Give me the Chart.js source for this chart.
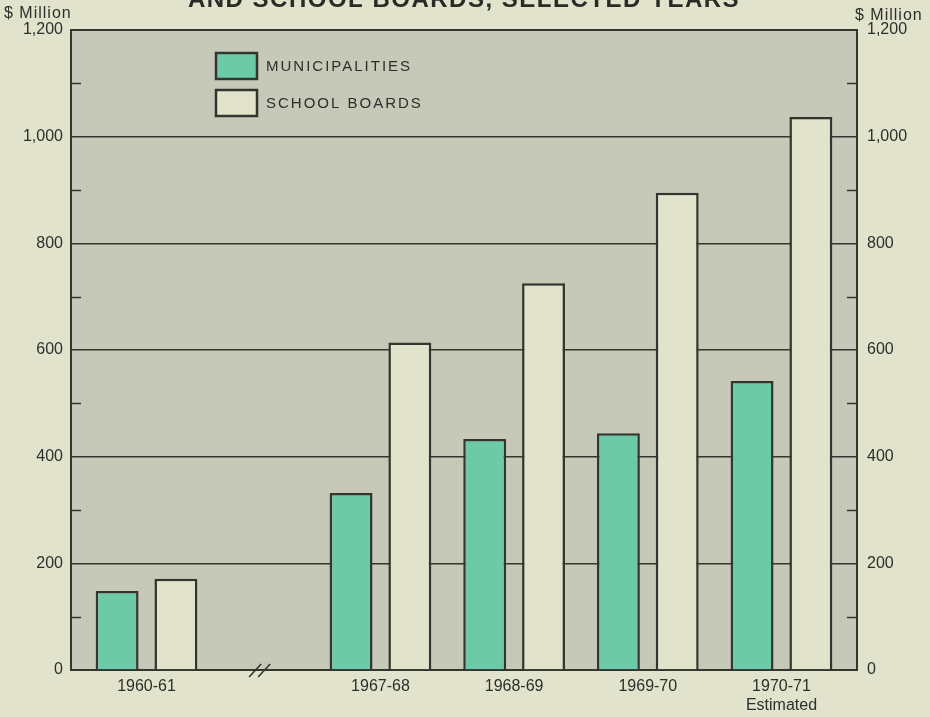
<!DOCTYPE html>
<html>
<head>
<meta charset="utf-8">
<script src="https://cdn.jsdelivr.net/npm/chart.js@4/dist/chart.umd.min.js"></script>
<style>
  html, body { margin: 0; padding: 0; background: #e2e3cc; }
  #wrap { width: 930px; height: 717px; }
</style>
</head>
<body>
<div id="wrap"><canvas id="myCanvas"></canvas></div>
<script>
// data ($ million)
const years = ['1960-61', '1967-68', '1968-69', '1969-70', '1970-71'];
const yearNotes = ['', '', '', '', 'Estimated'];
const municipalities = [148, 332, 433, 444, 542];
const schoolBoards = [171, 614, 725, 895, 1037];
const yTicks = [0, 200, 400, 600, 800, 1000, 1200];
const seriesNames = ['MUNICIPALITIES', 'SCHOOL BOARDS'];

// layout: where each year sits on the x scale (gap after 1960-61 for the break)
const slot = [0, 1.75, 2.75, 3.75, 4.75];
const breakAt = 0.85;

const ink = '#35352f';
const font = 'Liberation Sans, Arial, sans-serif';

const decor = {
   id: 'decor',
   beforeDraw(chart) {
      const c = chart.ctx, a = chart.chartArea;
      c.save();
      c.fillStyle = '#e2e3cc';
      c.fillRect(0, 0, chart.width, chart.height);
      c.fillStyle = '#c6c8b8';
      c.fillRect(a.left, a.top, a.right - a.left, a.bottom - a.top);
      c.restore();
   },
   afterDraw(chart) {
      const c = chart.ctx, a = chart.chartArea;
      const y = chart.scales.y, x = chart.scales.x;
      c.save();
      // minor ticks inside the frame
      c.strokeStyle = ink;
      c.lineWidth = 1.5;
      for (let v = 100; v < 1200; v += 200) {
         const py = Math.round(y.getPixelForValue(v)) + 0.5;
         c.beginPath();
         c.moveTo(a.left, py); c.lineTo(a.left + 10, py);
         c.moveTo(a.right, py); c.lineTo(a.right - 10, py);
         c.stroke();
      }
      // axis break
      const bx = x.getPixelForValue(breakAt);
      c.lineWidth = 1.6;
      c.beginPath();
      c.moveTo(bx - 11, a.bottom + 7); c.lineTo(bx + 1, a.bottom - 6);
      c.moveTo(bx - 2, a.bottom + 7); c.lineTo(bx + 10, a.bottom - 6);
      c.stroke();
      // title (cut off at the top)
      c.fillStyle = '#2a2a26';
      c.font = 'bold 24px ' + font;
      c.textAlign = 'center';
      c.textBaseline = 'alphabetic';
      c.letterSpacing = '1.5px';
      c.fillText('AND SCHOOL BOARDS, SELECTED YEARS', 464, 7);
      // unit labels
      c.font = '16px ' + font;
      c.letterSpacing = '1px';
      c.textAlign = 'left';
      c.fillStyle = '#2e2e2a';
      c.fillText('$ Million', 4, 18);
      c.fillText('$ Million', 855, 20);
      // legend
      c.textBaseline = 'middle';
      c.font = '15px ' + font;
      c.letterSpacing = '2px';
      chart.data.datasets.forEach(function(ds, i) {
         const top = 53 + i * 37;
         c.fillStyle = ds.backgroundColor;
         c.fillRect(216, top, 41, 26);
         c.strokeStyle = ink;
         c.lineWidth = 2.5;
         c.strokeRect(216, top, 41, 26);
         c.fillStyle = '#2e2e2a';
         c.fillText(ds.label, 266, top + 14);
      });
      c.restore();
   }
};

const ctx = document.getElementById('myCanvas').getContext('2d');
const myChart = new Chart(ctx, {
   type: 'bar',
   data: {
      datasets: [{
         label: seriesNames[0],
         data: years.map((yr, i) => ({ x: slot[i], y: municipalities[i] })),
         backgroundColor: '#6dcaa8',
         borderColor: ink,
         borderWidth: 2.5
      }, {
         label: seriesNames[1],
         data: years.map((yr, i) => ({ x: slot[i], y: schoolBoards[i] })),
         backgroundColor: '#e1e3cb',
         borderColor: ink,
         borderWidth: 2.5
      }]
   },
   options: {
      responsive: true,
      maintainAspectRatio: false,
      animation: false,
      categoryPercentage: 0.88,
      barPercentage: 0.73,
      layout: { padding: { top: 30, left: 0, right: 0, bottom: 0 } },
      plugins: {
         legend: { display: false },
         tooltip: { enabled: false }
      },
      scales: {
         x: {
            type: 'linear',
            offset: false,
            min: -0.565,
            max: 5.315,
            afterBuildTicks(scale) {
               scale.ticks = slot.map(v => ({ value: v }));
            },
            afterFit(scale) { scale.height = 47; },
            grid: { display: false, drawTicks: false },
            border: { display: true, color: ink, width: 2 },
            ticks: {
               padding: 7,
               maxRotation: 0,
               color: '#2e2e2a',
               font: { family: font, size: 16 },
               callback(value) {
                  const i = slot.indexOf(value);
                  if (i < 0) return '';
                  return yearNotes[i] ? [years[i], yearNotes[i]] : years[i];
               }
            }
         },
         y: {
            min: 0,
            max: 1200,
            afterBuildTicks(scale) {
               scale.ticks = yTicks.map(v => ({ value: v }));
            },
            afterFit(scale) { scale.width = 71; },
            grid: {
               color: ink,
               lineWidth: c => (c.tick && c.tick.value === 1200 ? 2 : 1.5),
               drawTicks: false
            },
            border: { display: true, color: ink, width: 2 },
            ticks: {
               padding: 8,
               color: '#2e2e2a',
               font: { family: font, size: 16 },
               callback: v => v.toLocaleString('en-US')
            }
         },
         y2: {
            position: 'right',
            min: 0,
            max: 1200,
            afterBuildTicks(scale) {
               scale.ticks = yTicks.map(v => ({ value: v }));
            },
            afterFit(scale) { scale.width = 73; },
            grid: { display: false, drawTicks: false },
            border: { display: true, color: ink, width: 2 },
            ticks: {
               padding: 10,
               color: '#2e2e2a',
               font: { family: font, size: 16 },
               callback: v => v.toLocaleString('en-US')
            }
         }
      }
   },
   plugins: [decor]
});
</script>
</body>
</html>
